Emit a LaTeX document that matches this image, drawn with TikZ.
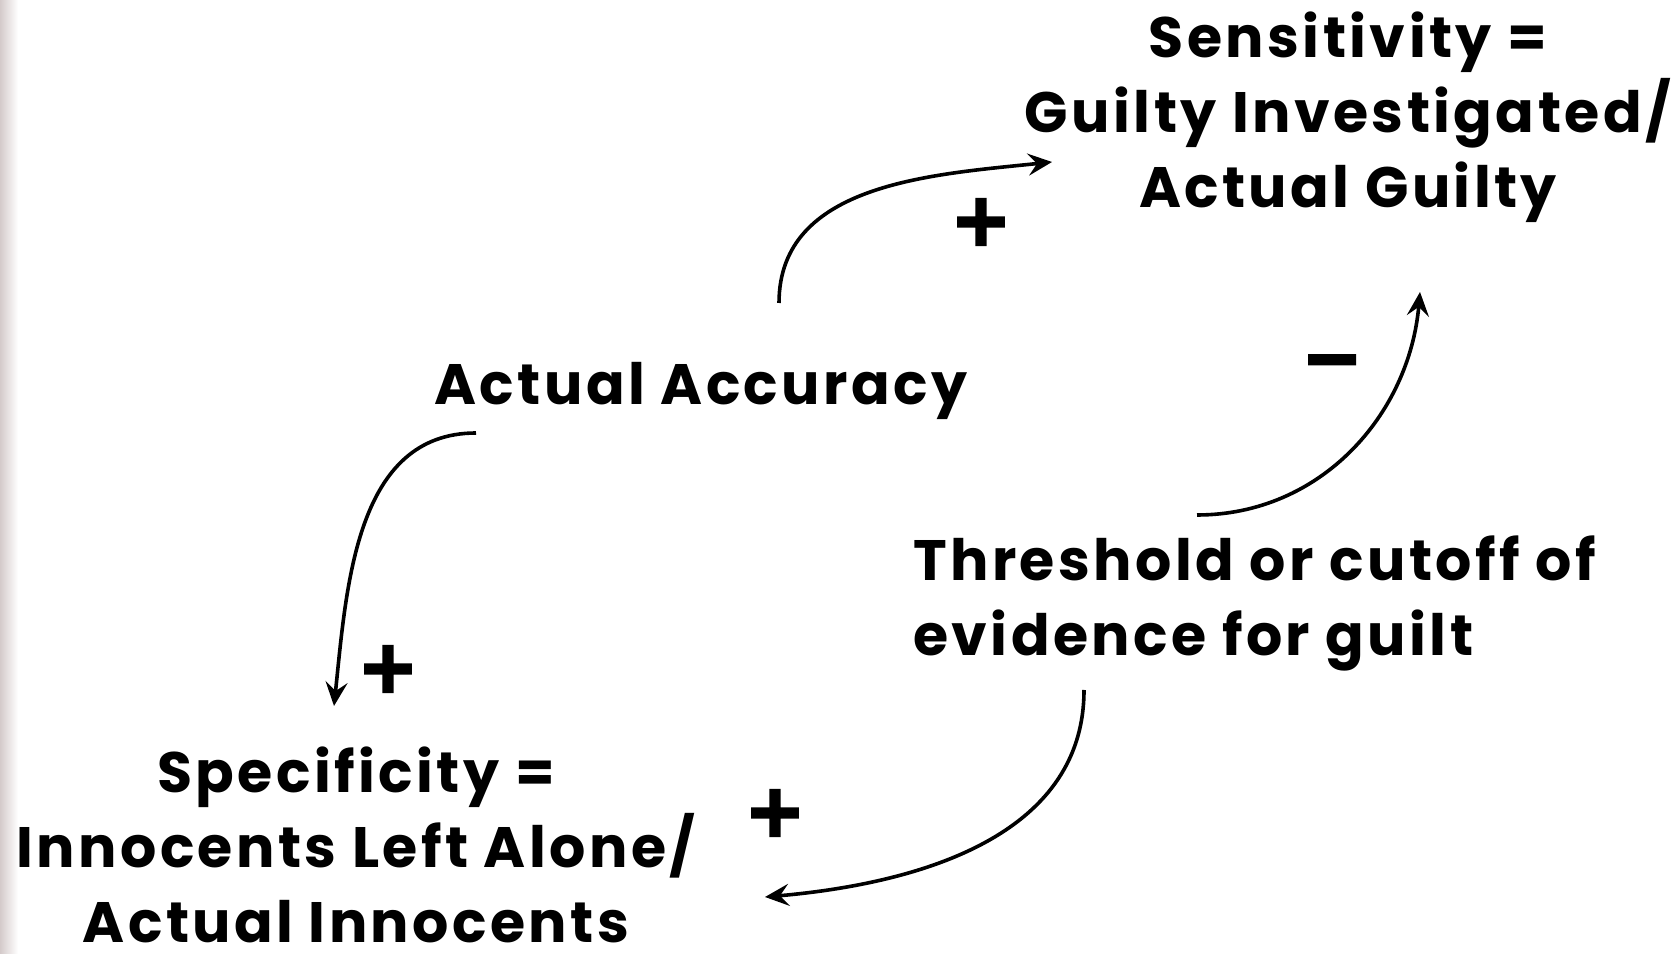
\documentclass[tikz,border=0pt]{standalone}
\usepackage{fontspec}
\setmainfont{Poppins}[LetterSpace=6]
\newfontfamily\signfont{DejaVu Sans}[FakeBold=4]
\usetikzlibrary{arrows.meta, positioning, calc}
\definecolor{cEdge}{RGB}{212,202,202}
\tikzset{
    factor/.style={align=center, font=\bfseries\fontsize{57}{75}\selectfont, inner sep=0pt},
    link/.style={-{Stealth[length=24pt, width=22pt, inset=9pt]}, line width=3.6pt},
    polarity/.style={font=\signfont\bfseries\fontsize{72}{72}\selectfont, inner sep=0pt},
}
\begin{document}
\begin{tikzpicture}[x=1pt, y=1pt]
    \useasboundingbox (0,0) rectangle (1678,953);
    \shade[left color=cEdge, right color=white] (0,0) rectangle (18,953);
    % factors
    \node[factor] (sens) at (1348,836) {Sensitivity =\\Guilty Investigated/\\Actual Guilty};
    \node[factor] (acc) at (701,562) {Actual Accuracy};
    \node[factor, anchor=west, align=left] (thr) at (913,350) {Threshold or cutoff of\\evidence for guilt};
    \node[factor] (spec) at (356,108) {Specificity =\\Innocents Left Alone/\\Actual Innocents};
    % links
    \draw[link] ([shift={(78,88)}]acc.center) to[out=90, in=186] ([shift={(-296,-45)}]sens.center);
    \draw[link] ([shift={(-225,-42)}]acc.center) to[out=180, in=84] ([shift={(-22,139)}]spec.center);
    \draw[link] ([shift={(171,-87)}]thr.west) to[out=-90, in=5] ([shift={(409,-52)}]spec.center);
    \draw[link] ([shift={(284,88)}]thr.west) to[out=0, in=-95] ([shift={(72,-175)}]sens.center);
    % polarities
    \node[polarity] (p1) at (981,731) {+};
    \node[polarity] (p2) at (388,284) {+};
    \node[polarity] (p3) at (775,140) {+};
    \node[polarity] (m1) at (1332,584) {−};
\end{tikzpicture}
\end{document}
